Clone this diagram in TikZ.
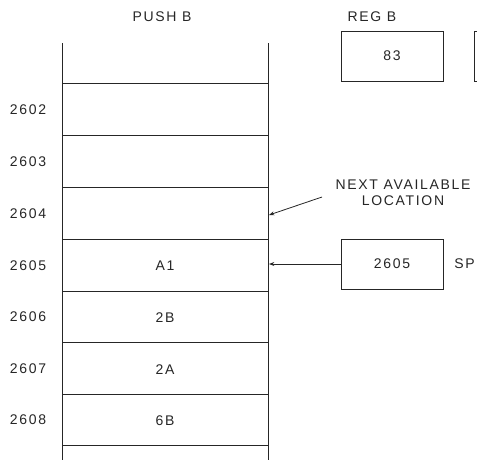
\documentclass[tikz,border=0pt]{standalone}
\usepackage{fontspec}
\setmainfont{Liberation Sans}[LetterSpace=12]
\usetikzlibrary{arrows.meta}
\begin{document}
\begin{tikzpicture}[x=0.75pt,y=-0.75pt,
  line/.style={draw=black!85,line width=0.6pt},
  lbl/.style={font=\fontsize{10.5}{12}\selectfont,text=black!85,inner sep=0pt},
  regbox/.style={draw=black!85,line width=0.6pt,minimum width=76.5pt,minimum height=37.5pt,inner sep=0pt,font=\fontsize{10.5}{12}\selectfont,text=black!85},
  arr/.style={draw=black!85,line width=0.6pt,-{Stealth[length=4pt,width=3pt]}}]
\useasboundingbox (0,0) rectangle (477,471);
% stack walls
\coordinate (tl) at (62,43); \coordinate (bl) at (62,460);
\coordinate (tr) at (268,43); \coordinate (br) at (268,460);
\draw[line] (tl) -- (bl);
\draw[line] (tr) -- (br);
\foreach \y [count=\i] in {83,135,187,239,291,342,394,445}{
  \coordinate (hl\i) at (62,\y); \coordinate (hr\i) at (268,\y);
  \draw[line] (hl\i) -- (hr\i);
}
% titles
\node[lbl] (push) at (162,17) {PUSH B};
\node[lbl] (regb) at (372,17) {REG B};
% address labels
\foreach \a/\y in {2602/110,2603/162,2604/214,2605/266,2606/317,2607/369,2608/420}{
  \node[lbl] (a\a) at (28,\y) {\a};
}
% contents
\node[lbl] (c2605) at (165,266) {A1};
\node[lbl] (c2606) at (165,318) {2B};
\node[lbl] (c2607) at (165,370) {2A};
\node[lbl] (c2608) at (165,421) {6B};
% registers
\node[regbox] (rb) at (392,56) {83};
\node[regbox,anchor=west] (rc) at (474,56) {};
\node[regbox] (sp) at (392,264) {2605};
\node[lbl,anchor=west] (spl) at (454,264) {SP};
% next available
\node[lbl,align=center] (nal) at (403,193) {NEXT AVAILABLE\\LOCATION};
\coordinate (na1) at (322,197);
\coordinate (na2) at (269,215);
\draw[arr] (na1) -- (na2);
\coordinate (sp2) at (269,264);
\draw[arr] (sp.west) -- (sp2);
\end{tikzpicture}
\end{document}
